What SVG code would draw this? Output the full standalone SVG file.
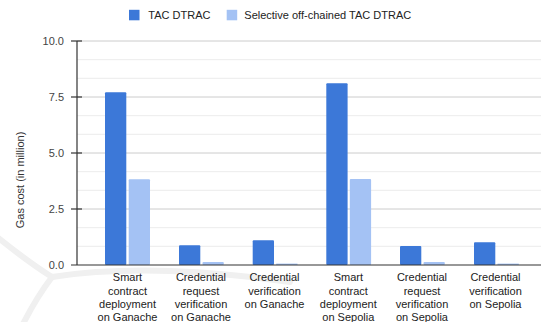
<svg xmlns="http://www.w3.org/2000/svg" width="541" height="322" viewBox="0 0 541 322">
<style>
text{font-family:"Liberation Sans",Arial,sans-serif;}
.lg{font-size:11px;fill:#222;}
.tk{font-size:11px;fill:#444;text-anchor:end;}
.cl{font-size:11px;fill:#222;text-anchor:middle;}
.major{stroke:#cccccc;stroke-width:1;}
.minor{stroke:#ececec;stroke-width:1;}
.ax{stroke:#333;stroke-width:1.2;}
.d{fill:#3c78d8;}
.l{fill:#a4c2f4;}
.wm{fill:none;stroke:#f0f0f0;stroke-width:6;stroke-linecap:round;}
</style>
<rect width="541" height="322" fill="#fff"/>
<g id="watermark">
<path class="wm" d="M-4,236 Q28,262 52,277"/>
<path class="wm" d="M52,277 Q150,262 290,282"/>
<path class="wm" d="M52,277 Q36,298 22,326"/>
</g>
<g id="legend">
<rect x="129" y="9.8" width="10.5" height="10.5" class="d"/>
<text x="148.3" y="19" class="lg">TAC DTRAC</text>
<rect x="226.7" y="9.8" width="10.5" height="10.5" class="l"/>
<text x="244.3" y="19" class="lg">Selective off-chained TAC DTRAC</text>
</g>
<g id="grid">
<line x1="77" y1="246.3" x2="541" y2="246.3" class="minor"/>
<line x1="77" y1="227.7" x2="541" y2="227.7" class="minor"/>
<line x1="77" y1="190.3" x2="541" y2="190.3" class="minor"/>
<line x1="77" y1="171.7" x2="541" y2="171.7" class="minor"/>
<line x1="77" y1="134.3" x2="541" y2="134.3" class="minor"/>
<line x1="77" y1="115.7" x2="541" y2="115.7" class="minor"/>
<line x1="77" y1="78.3" x2="541" y2="78.3" class="minor"/>
<line x1="77" y1="59.7" x2="541" y2="59.7" class="minor"/>
<line x1="77" y1="209" x2="541" y2="209" class="major"/>
<line x1="77" y1="153" x2="541" y2="153" class="major"/>
<line x1="77" y1="97" x2="541" y2="97" class="major"/>
<line x1="77" y1="41" x2="541" y2="41" class="major"/>
</g>
<g id="bars">
<rect x="105" y="92.3" width="21.3" height="172.7" rx="1" class="d"/>
<rect x="128.7" y="179.3" width="21.3" height="85.7" rx="1" class="l"/>
<rect x="179" y="245.3" width="21.3" height="19.7" rx="1" class="d"/>
<rect x="202.5" y="262" width="21.3" height="3" rx="1" class="l"/>
<rect x="252.7" y="240.3" width="21.3" height="24.7" rx="1" class="d"/>
<rect x="276.2" y="263.6" width="21.3" height="1.4" class="l"/>
<rect x="326.3" y="83.3" width="21.3" height="181.7" rx="1" class="d"/>
<rect x="349.8" y="179" width="21.3" height="86" rx="1" class="l"/>
<rect x="400" y="246" width="21.3" height="19" rx="1" class="d"/>
<rect x="423.5" y="262" width="21.3" height="3" rx="1" class="l"/>
<rect x="474" y="242.3" width="21.3" height="22.7" rx="1" class="d"/>
<rect x="497.5" y="263.6" width="21.3" height="1.4" class="l"/>
</g>
<g id="axes">
<line x1="77" y1="41" x2="77" y2="265" class="ax"/>
<line x1="71" y1="265" x2="541" y2="265" class="ax"/>
<line x1="71" y1="41" x2="82" y2="41" class="ax"/>
<line x1="71" y1="97" x2="82" y2="97" class="ax"/>
<line x1="71" y1="153" x2="82" y2="153" class="ax"/>
<line x1="71" y1="209" x2="82" y2="209" class="ax"/>
<text x="64" y="45" class="tk">10.0</text>
<text x="64" y="101" class="tk">7.5</text>
<text x="64" y="157" class="tk">5.0</text>
<text x="64" y="213" class="tk">2.5</text>
<text x="64" y="269" class="tk">0.0</text>
<text transform="translate(24,180) rotate(-90)" text-anchor="middle" style="font-size:11px;fill:#333">Gas cost (in million)</text>
</g>
<g id="categories">
<text class="cl"><tspan x="127.5" y="281.3">Smart</tspan><tspan x="127.5" y="294.5">contract</tspan><tspan x="127.5" y="307.7">deployment</tspan><tspan x="127.5" y="320.9">on Ganache</tspan></text>
<text class="cl"><tspan x="201" y="281.3">Credential</tspan><tspan x="201" y="294.5">request</tspan><tspan x="201" y="307.7">verification</tspan><tspan x="201" y="320.9">on Ganache</tspan></text>
<text class="cl"><tspan x="274.5" y="281.3">Credential</tspan><tspan x="274.5" y="294.5">verification</tspan><tspan x="274.5" y="307.7">on Ganache</tspan></text>
<text class="cl"><tspan x="348.3" y="281.3">Smart</tspan><tspan x="348.3" y="294.5">contract</tspan><tspan x="348.3" y="307.7">deployment</tspan><tspan x="348.3" y="320.9">on Sepolia</tspan></text>
<text class="cl"><tspan x="422" y="281.3">Credential</tspan><tspan x="422" y="294.5">request</tspan><tspan x="422" y="307.7">verification</tspan><tspan x="422" y="320.9">on Sepolia</tspan></text>
<text class="cl"><tspan x="495.5" y="281.3">Credential</tspan><tspan x="495.5" y="294.5">verification</tspan><tspan x="495.5" y="307.7">on Sepolia</tspan></text>
</g>
</svg>
